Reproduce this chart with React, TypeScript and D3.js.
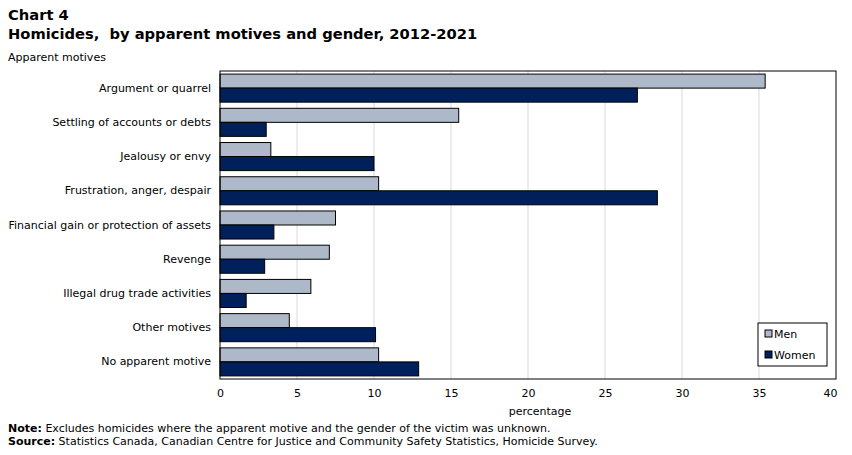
import React, { useEffect, useRef } from 'react';
import * as d3 from 'd3';

const categories = [
  'Argument or quarrel',
  'Settling of accounts or debts',
  'Jealousy or envy',
  'Frustration, anger, despair',
  'Financial gain or protection of assets',
  'Revenge',
  'Illegal drug trade activities',
  'Other motives',
  'No apparent motive',
];
const menValues = [35.4, 15.5, 3.3, 10.3, 7.5, 7.1, 5.9, 4.5, 10.3];
const womenValues = [27.1, 3.0, 10.0, 28.4, 3.5, 2.9, 1.7, 10.1, 12.9];
const seriesNames = ['Men', 'Women'];
const seriesColors = ['#adb8c9', '#00205b'];
const xTicks = [0, 5, 10, 15, 20, 25, 30, 35, 40];

const FONT = 'Verdana, "DejaVu Sans", sans-serif';

const App = () => {
  const svgRef = useRef<SVGSVGElement>(null);

  useEffect(() => {
    const svg = d3.select(svgRef.current);
    svg.selectAll('*').remove();

    const margin = { top: 71, left: 220, right: 16, bottom: 76 };
    const W = 852, H = 455;
    const width = W - margin.left - margin.right;
    const height = H - margin.top - margin.bottom;

    // titles
    svg.append('text').attr('x', 8).attr('y', 20)
      .attr('font-family', FONT).attr('font-weight', 'bold').attr('font-size', 14.7)
      .text('Chart 4');
    svg.append('text').attr('x', 8).attr('y', 39)
      .attr('font-family', FONT).attr('font-weight', 'bold').attr('font-size', 14.7)
      .attr('xml:space', 'preserve')
      .text('Homicides,  by apparent motives and gender, 2012-2021');
    svg.append('text').attr('x', 8).attr('y', 61)
      .attr('font-family', FONT).attr('font-size', 11)
      .text('Apparent motives');

    const g = svg.append('g').attr('transform', `translate(${margin.left},${margin.top})`);

    const x = d3.scaleLinear().domain([0, 40]).range([0, width]);
    const y = d3.scaleBand().domain(categories).range([0, height]).paddingInner(0.18).paddingOuter(0.09);
    const inner = d3.scaleBand().domain(seriesNames).range([0, y.bandwidth()]);

    // grid
    g.selectAll('.grid').data(xTicks.slice(1, -1)).enter().append('line')
      .attr('x1', d => x(d)).attr('x2', d => x(d))
      .attr('y1', 0).attr('y2', height)
      .attr('stroke', '#d9d9d9').attr('stroke-width', 1);

    const series = [menValues, womenValues];
    series.forEach((vals, si) => {
      g.selectAll(`.bar${si}`).data(categories).enter().append('rect')
        .attr('x', 0)
        .attr('y', (d) => (y(d) as number) + (inner(seriesNames[si]) as number))
        .attr('width', (_d, i) => x(vals[i]))
        .attr('height', inner.bandwidth())
        .attr('fill', seriesColors[si])
        .attr('stroke', '#000').attr('stroke-width', 1);
    });

    // border
    g.append('rect').attr('x', 0).attr('y', 0).attr('width', width).attr('height', height)
      .attr('fill', 'none').attr('stroke', '#000').attr('stroke-width', 1);

    // axes labels
    const xAxis = g.append('g').attr('transform', `translate(0,${height})`)
      .call(d3.axisBottom(x).tickValues(xTicks).tickSize(0).tickPadding(10).tickFormat(d3.format('d')));
    xAxis.select('.domain').remove();
    xAxis.selectAll('text').attr('font-family', FONT).attr('font-size', 11).attr('fill', '#000');
    // last label sits inside the right edge
    xAxis.selectAll('.tick').filter((d: any) => d === 40).select('text')
      .attr('text-anchor', 'end').attr('dx', 1);

    const yAxis = g.append('g')
      .call(d3.axisLeft(y).tickSize(0).tickPadding(9));
    yAxis.select('.domain').remove();
    yAxis.selectAll('text').attr('font-family', FONT).attr('font-size', 11).attr('fill', '#000');

    g.append('text').attr('x', x(20) + 12).attr('y', height + 36)
      .attr('text-anchor', 'middle').attr('font-family', FONT).attr('font-size', 11)
      .text('percentage');

    // legend
    const lg = g.append('g').attr('transform', `translate(${width - 78},${height - 56})`);
    lg.append('rect').attr('width', 69).attr('height', 43)
      .attr('fill', '#fff').attr('stroke', '#000').attr('stroke-width', 1);
    seriesNames.forEach((s, i) => {
      lg.append('rect').attr('x', 7).attr('y', 7 + i * 21).attr('width', 7).attr('height', 7)
        .attr('fill', seriesColors[i]).attr('stroke', '#000').attr('stroke-width', 1);
      lg.append('text').attr('x', 16).attr('y', 15 + i * 21)
        .attr('font-family', FONT).attr('font-size', 11).text(s);
    });

    // notes
    const note = svg.append('text').attr('x', 8).attr('y', 432)
      .attr('font-family', FONT).attr('font-size', 11);
    note.append('tspan').attr('font-weight', 'bold').text('Note:');
    note.append('tspan').text(' Excludes homicides where the apparent motive and the gender of the victim was unknown.');
    const src = svg.append('text').attr('x', 8).attr('y', 445)
      .attr('font-family', FONT).attr('font-size', 11);
    src.append('tspan').attr('font-weight', 'bold').text('Source:');
    src.append('tspan').text(' Statistics Canada, Canadian Centre for Justice and Community Safety Statistics, Homicide Survey.');
  }, []);

  return <svg ref={svgRef} width={852} height={455} style={{ display: 'block', margin: '-8px', background: '#fff' }} />;
};

export default App;
